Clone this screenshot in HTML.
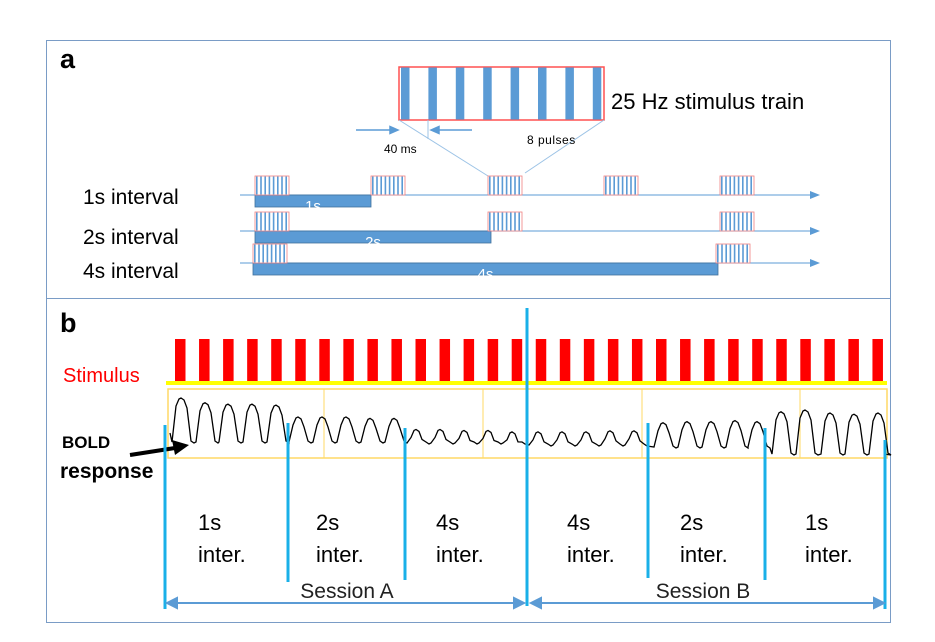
<!DOCTYPE html>
<html><head><meta charset="utf-8"><style>
html,body{margin:0;padding:0;background:#fff;width:935px;height:642px;overflow:hidden}
svg{display:block;font-family:"Liberation Sans",sans-serif}
</style></head><body>
<svg id="fig" width="935" height="642" viewBox="0 0 935 642">
<rect x="46.5" y="40.5" width="844" height="258" fill="none" stroke="#7a9cc6" stroke-width="1"/>
<rect x="46.5" y="298.5" width="844" height="324" fill="none" stroke="#7a9cc6" stroke-width="1"/>
<text x="60" y="68" font-size="27" font-weight="bold">a</text>
<text x="60" y="332" font-size="27" font-weight="bold">b</text>
<g id="trainBig"></g>
<text x="611" y="109" font-size="22">25 Hz stimulus train</text>
<g stroke="#5b9bd5" stroke-width="1.5" fill="#5b9bd5">
<line x1="356" y1="130" x2="393" y2="130"/><polygon points="398,130 390,126.5 390,133.5"/>
<line x1="472" y1="130" x2="437" y2="130"/><polygon points="431,130 439,126.5 439,133.5"/>
</g>
<g stroke="#9cc3e6" stroke-width="1">
<line x1="399" y1="120" x2="488" y2="176"/><line x1="428" y1="120" x2="428" y2="139"/><line x1="604" y1="120" x2="525" y2="173"/>
</g>
<text x="384" y="153" font-size="12">40 ms</text>
<text x="527" y="144" font-size="12" letter-spacing="0.5">8 pulses</text>
<g id="rows"></g>
<text x="83" y="204" font-size="21">1s interval</text>
<text x="83" y="244" font-size="21">2s interval</text>
<text x="83" y="278" font-size="21">4s interval</text>
<g id="stim"></g>
<text x="63" y="382" font-size="20" fill="#ff0000">Stimulus</text>
<rect x="168" y="389" width="719" height="69" fill="none" stroke="#ffd966" stroke-width="1.5"/>
<g stroke="#ffd966" stroke-width="1">
<line x1="324" y1="389" x2="324" y2="458"/><line x1="483" y1="389" x2="483" y2="458"/><line x1="642" y1="389" x2="642" y2="458"/><line x1="800" y1="389" x2="800" y2="458"/>
</g>
<path id="bold" fill="none" stroke="#000" stroke-width="1.3"/>
<text x="62" y="448" font-size="17" font-weight="bold">BOLD</text>
<text x="60" y="478" font-size="21" font-weight="bold">response</text>
<g><line x1="130" y1="455" x2="175" y2="448" stroke="#000" stroke-width="4"/><polygon points="189,445 172,440 175,455" fill="#000"/></g>
<g stroke="#1ab0e8" stroke-width="3">
<line x1="165" y1="425" x2="165" y2="609"/><line x1="288" y1="423" x2="288" y2="582"/><line x1="405" y1="428" x2="405" y2="580"/><line x1="527" y1="308" x2="527" y2="606"/><line x1="648" y1="423" x2="648" y2="578"/><line x1="765" y1="428" x2="765" y2="580"/><line x1="885" y1="440" x2="885" y2="609"/>
</g>
<g font-size="22">
<text x="198" y="530">1s</text><text x="198" y="562">inter.</text>
<text x="316" y="530">2s</text><text x="316" y="562">inter.</text>
<text x="436" y="530">4s</text><text x="436" y="562">inter.</text>
<text x="567" y="530">4s</text><text x="567" y="562">inter.</text>
<text x="680" y="530">2s</text><text x="680" y="562">inter.</text>
<text x="805" y="530">1s</text><text x="805" y="562">inter.</text>
</g>
<g stroke="#5b9bd5" stroke-width="2" fill="#5b9bd5">
<line x1="172" y1="603" x2="518" y2="603"/><polygon points="167,603 177,598 177,608"/><polygon points="524,603 514,598 514,608"/>
<line x1="536" y1="603" x2="878" y2="603"/><polygon points="531,603 541,598 541,608"/><polygon points="884,603 874,598 874,608"/>
</g>
<text x="347" y="598" font-size="21" text-anchor="middle" fill="#222">Session A</text>
<text x="703" y="598" font-size="21" text-anchor="middle" fill="#222">Session B</text>
</svg>
<script>
// data
const pulseCount = 8;
const rowTrains = [[255,371,488,604,720],[255,488,720],[253,716]];
const rowBars = [[255,371,"1s"],[255,491,"2s"],[253,718,"4s"]];
const stimCount = 30;
const peakX = [181,205,228,252,276, 298,322,346,370,394, 416,440,464,488,512, 538,562,586,610,634, 663,687,711,735,757, 781,805,830,854,878];
const peakH = [0.95,0.85,0.82,0.82,0.80, 0.55,0.55,0.55,0.52,0.52, 0.30,0.30,0.28,0.28,0.25, 0.28,0.28,0.28,0.30,0.30, 0.48,0.50,0.50,0.52,0.50, 0.72,0.75,0.70,0.68,0.70];
const troughY = [443,443,443,443,443, 443,443,443,443,443, 444,444,444,444,444, 446,446,446,446,446, 448,448,448,448,448, 455,455,455,455,455];
const NS="http://www.w3.org/2000/svg";
function mk(t,a,p){const e=document.createElementNS(NS,t);for(const k in a)e.setAttribute(k,a[k]);(p||document.getElementById('fig')).appendChild(e);return e;}
// big train
const tb=document.getElementById('trainBig');
mk('rect',{x:399,y:67,width:205,height:53,fill:'#fff',stroke:'#ff5050','stroke-width':1.5},tb);
for(let i=0;i<pulseCount;i++){const r=mk('rect',{x:401+i*27.4,y:67.5,width:8.5,height:52,fill:'#5b9bd5'},tb);

}
// rows
const rows=document.getElementById('rows');
const axisY=[195,231,263];
rowTrains.forEach((tr,ri)=>{
 const y=axisY[ri];
 const ax=mk('line',{x1:240,y1:y,x2:812,y2:y,stroke:'#5b9bd5','stroke-width':1},rows);
 
 
 mk('polygon',{points:`${820},${y} ${810},${y-4} ${810},${y+4}`,fill:'#5b9bd5'},rows);
 const b=rowBars[ri];
 const bar=mk('rect',{x:b[0],y:y,width:b[1]-b[0],height:12,fill:'#5b9bd5',stroke:'#41719c','stroke-width':0.8},rows);
 
 
 const t=mk('text',{x:(b[0]+b[1])/2,y:y+16,'font-size':15,fill:'#fff','text-anchor':'middle'},rows);t.textContent=b[2];
 tr.forEach(x=>{
  const g=mk('g',{},rows);
  
  
  mk('rect',{x:x,y:y-19,width:34,height:19,fill:'#fff',stroke:'#f08080','stroke-width':0.8},g);
  for(let i=0;i<pulseCount;i++)mk('rect',{x:x+1+i*4.2,y:y-18.5,width:1.6,height:18,fill:'#5b9bd5'},g);
 });
});
// stimulus bars
const st=document.getElementById('stim');
for(let i=0;i<stimCount;i++){const r=mk('rect',{x:175+i*24.05,y:339,width:10.5,height:45,fill:'#ff0000'},st);

}
mk('rect',{x:166,y:381,width:721,height:4,fill:'#ffff00'},st);
// bold trace
const traceTop=398,traceBot=456;
let d=`M170,${troughY[0]-10}`;
peakX.forEach((px,i)=>{
 const ty=troughY[i]; const py=ty-peakH[i]*(ty-traceTop)/0.95;
 d+=` L${px-9},${ty-1} L${px-5},${py+8} L${px-2},${py+1} L${px},${py} L${px+3},${py+2} L${px+6},${py+10} L${px+10},${ty-2} L${px+13},${ty}`;
});
d+=` L884,${traceBot-2}`;
document.getElementById('bold').setAttribute('d',d);
</script>
</body></html>
